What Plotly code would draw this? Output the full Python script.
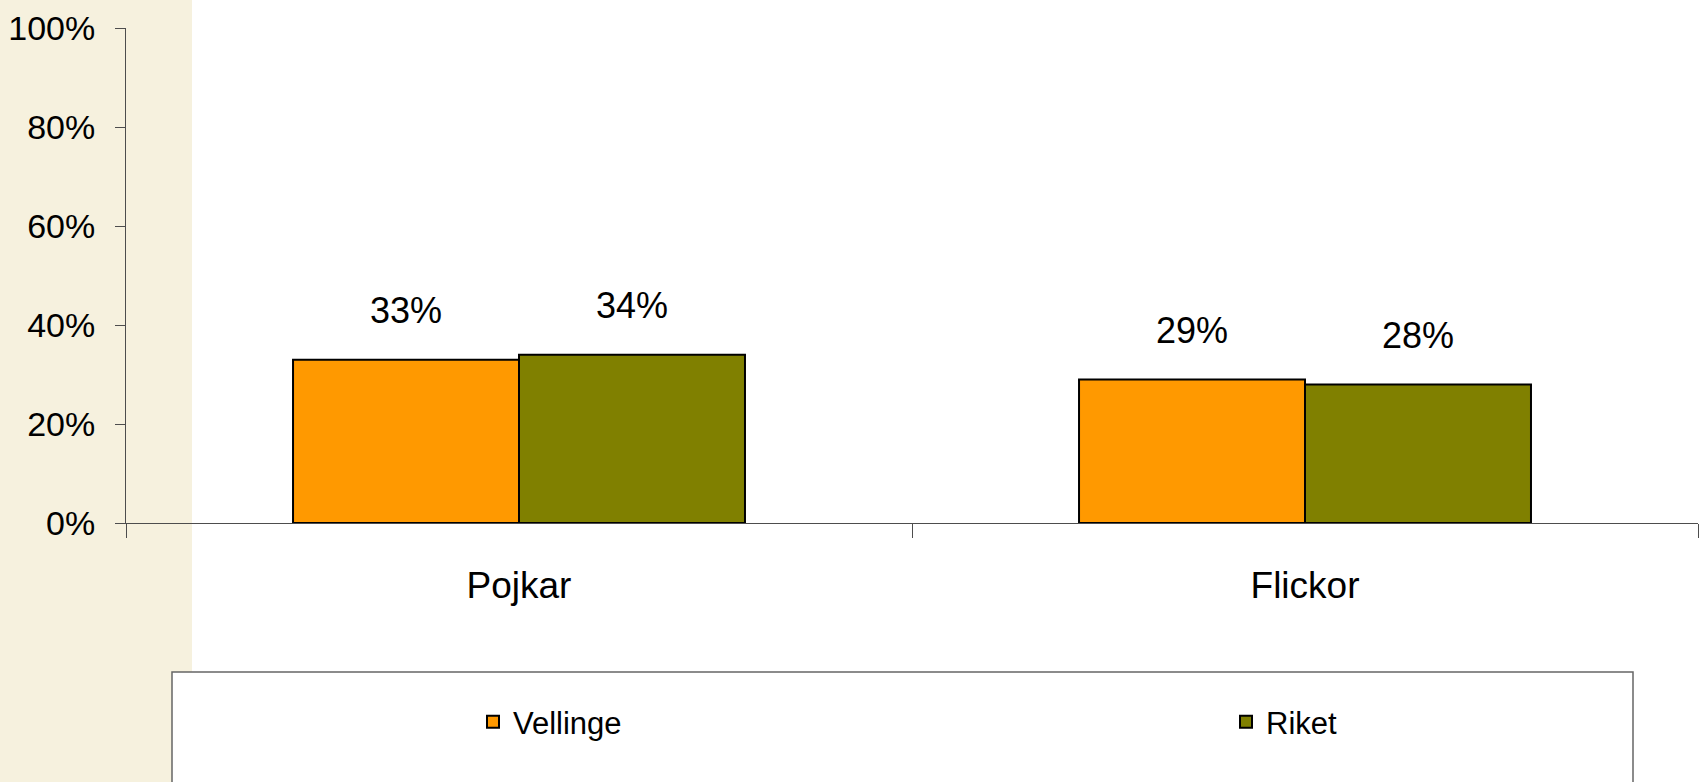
import plotly.graph_objects as go

categories = ["Pojkar", "Flickor"]
vellinge = [0.33, 0.29]
riket = [0.34, 0.28]
series_names = ["Vellinge", "Riket"]

_COL_VELLINGE = "#FF9900"
_COL_RIKET = "#808000"
_COL_AXIS = "#4d4d4d"
_FONT = "Liberation Sans, Arial, sans-serif"

# plot area in pixels: x 126..1698, y 28..523
W, H = 1701, 782
L, R, T, B = 126, 3, 28, 259
PW, PH = W - L - R, H - T - B


def px_x(x):
    return (x - L) / PW


def px_y(y):
    return (H - B - y) / PH


fig = go.Figure()
for name, vals, col, leg in [
    (series_names[0], vellinge, _COL_VELLINGE, "legend"),
    (series_names[1], riket, _COL_RIKET, "legend2"),
]:
    fig.add_trace(
        go.Bar(
            x=categories,
            y=vals,
            name=name,
            legend=leg,
            marker=dict(color=col, line=dict(color="black", width=2)),
        )
    )

# value labels above bars
for vals, shift in [(vellinge, -113), (riket, 113)]:
    for cat, v in zip(categories, vals):
        fig.add_annotation(
            x=cat,
            y=v,
            text=f"{round(v * 100)}%",
            showarrow=False,
            xshift=shift,
            yshift=49,
            yanchor="middle",
            font=dict(family=_FONT, size=36, color="black"),
        )

# beige strip on the left edge
fig.add_shape(
    type="rect",
    xref="paper",
    yref="paper",
    x0=px_x(-5),
    x1=px_x(192),
    y0=px_y(800),
    y1=px_y(-5),
    fillcolor="#F6F1DE",
    line=dict(width=0),
    layer="below",
)
# legend frame
fig.add_shape(
    type="rect",
    xref="paper",
    yref="paper",
    x0=px_x(172),
    x1=px_x(1633),
    y0=px_y(800),
    y1=px_y(672),
    fillcolor="white",
    line=dict(color="#666666", width=1.5),
    layer="below",
)

fig.update_xaxes(
    automargin=False,
    showline=True,
    linecolor=_COL_AXIS,
    linewidth=1,
    ticks="outside",
    tickson="boundaries",
    ticklen=14,
    tickcolor=_COL_AXIS,
    ticklabelstandoff=30,
    tickfont=dict(family=_FONT, size=37, color="black"),
    showgrid=False,
)
fig.update_yaxes(
    automargin=False,
    range=[0, 1],
    dtick=0.2,
    tickformat=".0%",
    showline=True,
    linecolor=_COL_AXIS,
    linewidth=1,
    ticks="outside",
    ticklen=10,
    tickcolor=_COL_AXIS,
    ticklabelstandoff=13,
    tickfont=dict(family=_FONT, size=34, color="black"),
    showgrid=False,
    zeroline=False,
)

legend_style = dict(
    xref="container",
    yref="container",
    y=1 - 722 / H,
    xanchor="left",
    yanchor="middle",
    bgcolor="rgba(0,0,0,0)",
    borderwidth=0,
    font=dict(family=_FONT, size=31, color="black"),
)
fig.update_layout(
    width=W,
    height=H,
    margin=dict(l=L, r=R, t=T, b=B, pad=0, autoexpand=False),
    barmode="group",
    bargap=0.425,
    bargroupgap=0,
    paper_bgcolor="white",
    plot_bgcolor="rgba(0,0,0,0)",
    showlegend=True,
    legend=dict(x=473 / W, **legend_style),
    legend2=dict(x=1226 / W, **legend_style),
)

fig.write_html(
    "out.html",
    config={"displayModeBar": False},
    post_script="document.body.style.margin='0';",
)
